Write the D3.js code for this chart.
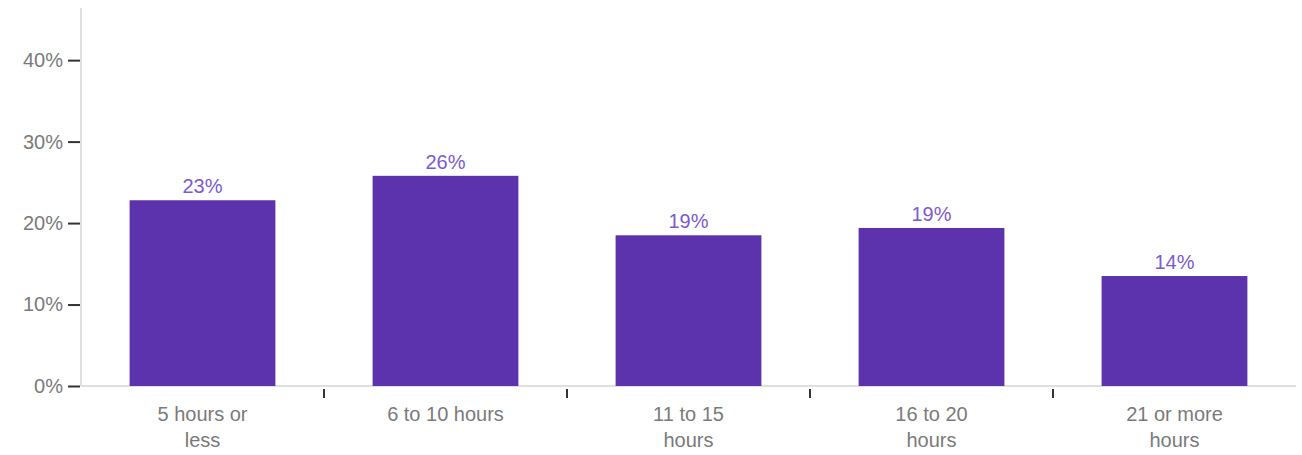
<!DOCTYPE html>
<html><head><meta charset="utf-8">
<script src="https://cdn.jsdelivr.net/npm/d3@7"></script>
<style>body{margin:0;background:#fff}svg{display:block}</style>
</head><body>
<svg id="chart" width="1302" height="455"></svg>
<script>
const categories = ["5 hours or less", "6 to 10 hours", "11 to 15 hours", "16 to 20 hours", "21 or more hours"];
const categoryLines = [["5 hours or", "less"], ["6 to 10 hours"], ["11 to 15", "hours"], ["16 to 20", "hours"], ["21 or more", "hours"]];
const values = [22.8, 25.8, 18.5, 19.4, 13.5];
const valueLabels = ["23%", "26%", "19%", "19%", "14%"];
const yTicks = [0, 10, 20, 30, 40];

(function () {
const svg = d3.select("#chart");
const mLeft = 81, mRight = 1296, mTop = 8, mBottom = 386;
const font = "'Liberation Sans', Arial, sans-serif";

const x = d3.scaleBand().domain(categories).range([mLeft, mRight]).paddingInner(0.4).paddingOuter(0.2);
const y = d3.scaleLinear().domain([0, 46.4]).range([mBottom, mTop]);

svg.append("line").attr("x1", mLeft).attr("x2", mLeft).attr("y1", mTop).attr("y2", mBottom)
  .attr("stroke", "#d4d4d4").attr("stroke-width", 1.5);
svg.append("line").attr("x1", mLeft).attr("x2", mRight).attr("y1", mBottom).attr("y2", mBottom)
  .attr("stroke", "#d4d4d4").attr("stroke-width", 1.5);

const yAxis = svg.append("g").attr("transform", `translate(${mLeft - 1},0)`)
  .call(d3.axisLeft(y).tickValues(yTicks).tickFormat(d => d + "%").tickSize(12).tickPadding(5));
yAxis.select(".domain").remove();
yAxis.selectAll(".tick line").attr("stroke", "#333").attr("stroke-width", 2);
yAxis.selectAll(".tick text").attr("fill", "#7a7a7a").style("font-family", font).style("font-size", "20px");

const step = x.step();
const bounds = categories.slice(1).map(c => x(c) - x.paddingInner() * step / 2);
svg.append("g").selectAll("line").data(bounds).join("line")
  .attr("x1", d => d).attr("x2", d => d).attr("y1", mBottom + 3).attr("y2", mBottom + 12)
  .attr("stroke", "#333").attr("stroke-width", 2);

svg.append("g").selectAll("rect").data(values).join("rect")
  .attr("x", (d, i) => x(categories[i])).attr("width", x.bandwidth())
  .attr("y", d => y(d)).attr("height", d => mBottom - y(d))
  .attr("fill", "#5c33ad");

svg.append("g").selectAll("text").data(values).join("text")
  .attr("x", (d, i) => x(categories[i]) + x.bandwidth() / 2)
  .attr("y", d => y(d) - 7)
  .attr("text-anchor", "middle").attr("fill", "#7b5ad0")
  .style("font-family", font).style("font-size", "20px")
  .text((d, i) => valueLabels[i]);

const cl = svg.append("g").selectAll("text").data(categories).join("text")
  .attr("text-anchor", "middle").attr("fill", "#7a7a7a")
  .style("font-family", font).style("font-size", "20px")
  .attr("transform", d => `translate(${x(d) + x.bandwidth() / 2},421)`);
cl.selectAll("tspan").data((d, i) => categoryLines[i]).join("tspan")
  .attr("x", 0).attr("dy", (d, j) => j === 0 ? 0 : 26).text(d => d);
})();
</script>
</body></html>
